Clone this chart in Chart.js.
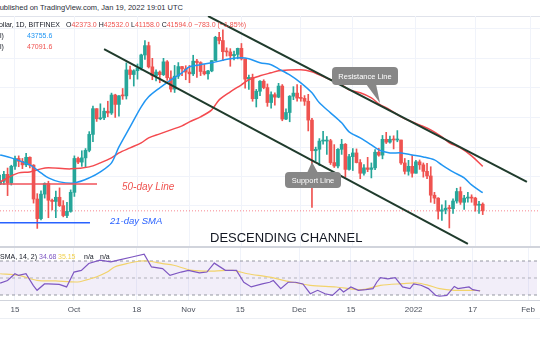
<!DOCTYPE html>
<html lang="en">
<head>
<meta charset="UTF-8">
<title>BTCUSD 1D - descending channel</title>
<script src="https://cdn.jsdelivr.net/npm/chart.js"></script>
<style>
  body { margin:0; width:540px; height:340px; overflow:hidden; position:relative; background:#fff;
         font-family:"Liberation Sans", Arial, sans-serif; color:#131722; }
  .t { position:absolute; white-space:nowrap; line-height:10px; }
  .ln { position:absolute; left:0; width:540px; }
  .r { color:#ef5350; }
</style>
</head>
<body>
<div class="t" style="right:357px;top:3px;font-size:7.5px;color:#2a2e39">Published on TradingView.com, Jan 19, 2022 19:01 UTC</div>
<div class="ln" style="top:16px;height:1px;background:#e0e3eb"></div>
<div style="position:absolute;left:0;top:16px;width:540px;height:230px"><canvas id="main"></canvas></div>
<div style="position:absolute;left:0;top:248px;width:540px;height:70px"><canvas id="rsi"></canvas></div>
<div class="ln" style="top:246px;height:2px;background:#d1d4dc"></div>
<div class="ln" style="top:300px;height:1px;background:#d1d4dc"></div>
<div class="ln" style="top:318px;height:1px;background:#eceff4"></div>

<div class="t" style="right:480px;top:20px;font-size:7px">Bitcoin / U.S. Dollar, 1D, BITFINEX</div>
<div class="t" style="left:66px;top:20px;font-size:7px">O<span class="r">42373.0</span> H<span class="r">42532.0</span> L<span class="r">41158.0</span> C<span class="r">41594.0</span> <span class="r">&minus;783.0 (&minus;1.85%)</span></div>
<div class="t" style="left:0;top:31px;font-size:7px">l)</div>
<div class="t" style="left:27px;top:31px;font-size:7px;color:#2196f3">43755.6</div>
<div class="t" style="left:0;top:42px;font-size:7px">l)</div>
<div class="t" style="left:27px;top:42px;font-size:7px;color:#ef5350">47091.6</div>

<div class="t" style="right:503px;top:252px;font-size:7px">RSI (14, close, SMA, 14, 2)</div>
<div class="t" style="left:39px;top:252px;font-size:7px;color:#7e57c2">34.68</div>
<div class="t" style="left:58px;top:252px;font-size:7px;color:#f0cf4a">35.15</div>
<div class="t" style="left:84px;top:252px;font-size:7px">n/a</div>
<div class="t" style="left:100px;top:252px;font-size:7px">n/a</div>

<script>
// day numbers are counted from 15 Sep 2021 (day 0); first candle is 11 Sep 2021
const firstDay = -4

const tickDays = [0, 16, 33, 47, 61, 77, 91, 108, 124, 139]
const tickLabels = ["15", "Oct", "18", "Nov", "15", "Dec", "15", "2022", "17", "Feb"]
const priceGrid = [42200, 45800, 49700, 54000, 58700, 63700, 69200]

// daily candles 11 Sep 2021 .. 19 Jan 2022
const opens = [44850,45180,46060,44960,47110,48150,47770,47300,48310,47260,
  42990,40700,43580,44900,42840,42700,43200,42200,41050,41530,
  43800,48150,47660,48230,49250,51500,55340,53800,53950,54950,
  54680,57490,56000,57370,57350,61670,60880,61530,62000,64300,
  66000,62200,60700,61300,60860,63080,60330,58450,60600,62250,61850,
  61300,61000,63200,62950,61400,61000,61500,63300,67550,66950,
  64900,64850,64150,64400,65500,63600,60100,60400,56900,58100,
  59750,58700,56300,57550,57150,58950,53750,54750,57300,57800,
  57000,56950,56500,53600,49200,49400,50550,50550,50600,47600,
  47150,49400,50100,46700,48400,48900,47600,46200,46900,46700,
  46900,49000,48600,50800,50400,50800,50700,50700,47550,46450,47100,
  46200,47700,47300,46450,45850,43450,43100,41550,41700,41900,
  41850,42750,43900,42600,43100,43200,43100,42250,42373]
const highs = [45970,46450,46880,47250,48470,48500,48150,48830,48370,47330,
  43640,44000,44980,45180,42990,43940,44350,42800,42600,44100,
  48500,48350,49200,49500,51900,55750,55340,56100,55450,56500,
  57800,57620,57400,58550,62900,62350,61700,62700,64450,66950,
  66650,63700,61700,61500,63700,63300,61500,62450,62950,62300,62400,
  62450,64250,63500,63100,62600,61600,63300,67750,68500,69000,
  65600,65450,65000,65550,66400,63600,60800,60950,58400,59850,
  60000,59300,58000,57850,59400,59200,55300,57400,58850,59200,
  59050,57400,57600,53850,49700,50900,51950,51200,50800,50050,
  49500,50800,50200,48700,49500,49450,48000,47350,48300,47550,
  49350,49550,51350,51800,51250,51300,52050,50700,48150,47900,48550,
  47900,47950,47550,47500,47050,43800,43150,42300,42800,42250,
  43000,44300,44450,43450,43800,43500,43200,42700,42532]
const lows = [44740,44770,43400,44700,46700,47050,46800,47070,46880,42500,
  39600,40550,43100,40800,41700,40800,42100,40900,40800,41430,
  43300,47450,47100,46950,49050,50450,53400,53650,53650,54100,
  54450,54000,54200,56800,56850,60150,58950,60100,61650,63500,
  62000,60000,59800,59500,60700,59900,58000,57900,60200,60700,60000,
  59500,60700,60400,60700,60800,60100,61350,63250,66300,63300,
  64100,62300,63400,63600,63400,58600,58400,56500,55600,57400,
  58500,55700,55400,55900,57050,53500,53650,53350,56750,56500,
  56500,55850,52000,42000,47800,47200,50100,48700,47350,46950,
  46900,48700,45700,46600,46550,47550,45500,45950,46400,45600,
  46650,48450,48100,50200,50250,49450,50450,47350,46100,45950,45700,
  46200,46700,45700,45500,42600,42450,40650,40500,41250,39650,
  41300,42500,42350,41750,42600,42600,41550,41300,41158]
const closes = [45180,46060,44960,47110,48150,47770,47300,48310,47260,42990,
  40700,43580,44900,42840,42700,43200,42200,41050,41530,43800,
  48150,47660,48230,49250,51500,55340,53800,53950,54950,54680,
  57490,56000,57370,57350,61670,60880,61530,62000,64300,66000,
  62200,60700,61300,60860,63080,60330,58450,60600,62250,61850,61300,
  61000,63200,62950,61400,61000,61500,63300,67550,66950,64900,
  64850,64150,64400,65500,63600,60100,60400,56900,58100,59750,
  58700,56300,57550,57150,58950,53750,54750,57300,57800,57000,
  56950,56500,53600,49200,49400,50550,50550,50600,47600,47150,
  49400,50100,46700,48400,48900,47600,46200,46900,46700,46900,
  49000,48600,50800,50400,50800,50700,50700,47550,46450,47100,46200,
  47700,47300,46450,45850,43450,43100,41550,41700,41900,41850,
  42750,43900,42600,43100,43200,43100,42250,42373,41594]
const lastPrice = 41594

// moving averages
const sma21Days = [-4,-1,4,7,9,12,16,20,23,26,28,31,34,36,39,42,45,47,50,53,58,61,63,66,69,71,74,77,80,82,85,88,90,93,96,98,101,104,107,110,113,115,118,121,123,126]
const sma21 = [48630,48230,47290,46250,45600,45100,44970,45600,46370,47560,49730,52600,55630,57200,58660,59990,61180,62220,62570,62920,63620,63800,63620,62920,62570,61860,60820,59490,57850,56250,54700,53190,51870,51000,50010,49320,48900,48900,48630,48360,47960,47290,46370,45600,44720,43756]
const sma50Days = [-4,-1,1,4,7,9,15,20,23,26,28,31,34,36,39,42,45,47,50,53,55,58,61,63,66,69,71,77,80,82,85,88,90,93,96,98,101,104,107,109,112,115,117,120,123,126]
const sma50 = [45100,45860,46250,46370,46770,46900,46770,47030,47560,48230,48900,49600,50300,51000,51580,52160,52750,53340,54090,55160,56720,58010,59160,59990,60660,61180,61520,61690,61350,60820,59990,59160,58330,57850,57040,56100,55160,54090,53340,52890,52160,51150,50300,49600,48500,47092]

// drawn trend lines: [day, price] end points
const upperChannel = [[52, 71690], [137.9, 45090]]
const lowerChannel = [[24, 65370], [122, 37920]]
const line50 = [[-4.05, 44840], [22.1, 44840]]
const line21 = [[-4.05, 40240], [20.2, 40240]]

// RSI pane
const rsiDays = [-4,-2,0,1,3,5,6,8,9,12,14,16,18,20,23,26,28,32,35,37,40,42,45,47,50,52,54,57,60,62,64,67,69,70,72,74,76,78,80,82,84,86,88,89,91,93,95,97,98,99,101,103,105,107,108,110,112,114,115,117,119,120,123,124,126]
const rsiVals = [44,47,55,53,55,41,35.5,43,43,42.5,39.5,57,59,67,71,69,71,75,78,63,61,53,57,59,56,57,67.5,59,59,45,39.5,43,45,47,37.5,45,45,43,31.5,35.5,31.5,29.5,37.5,33.5,39.5,35.5,36.3,37.5,45,50.5,49,50.5,39.5,37.5,43,41.5,37.5,29.5,28.5,29.5,40,37.5,39.5,36.3,34.68]
const rsiMaDays = [-4,1,6,11,17,19,22,25,27,31,34,36,40,43,48,54,59,63,69,74,80,87,94,99,105,109,112,115,119,123,126]
const rsiMa = [55,53,47.3,46.5,45.3,47.3,51.2,57,63,67.6,70,70,67,65,59,58.2,59,55,51,46,41.4,39.4,36.3,41.4,43.3,44.1,41.4,37.5,35.5,35.5,35.15]
const rsiLevels = [70, 50, 30]

const xMin = -4.04, xMax = 141.43
const up = "#26a69a", down = "#ef5350"
const font = '"Liberation Sans", Arial, sans-serif'
Chart.defaults.font.family = font
Chart.defaults.animation = false

const pts = (days, vals) => days.map((d, i) => ({ x: d, y: vals[i] }))
const seg = (p) => p.map((q) => ({ x: q[0], y: q[1] }))
const candleColor = (ctx) => (closes[ctx.dataIndex] >= opens[ctx.dataIndex] ? up : down)

function callout(c, text, x, y, w, h, tail) {
  c.fillStyle = "#878787"
  c.beginPath()
  c.roundRect(x, y, w, h, 4)
  c.fill()
  c.beginPath()
  c.moveTo(tail[0], tail[1])
  c.lineTo(tail[2], tail[3])
  c.lineTo(tail[4], tail[5])
  c.closePath()
  c.fill()
  c.fillStyle = "#fff"
  c.font = "7.5px " + font
  c.textAlign = "center"
  c.fillText(text, x + w / 2, y + h / 2 + 0.5)
  c.textAlign = "left"
}

const overlay = {
  id: "overlay",
  afterDatasetsDraw(chart) {
    const c = chart.ctx
    c.save()
    c.textBaseline = "middle"
    c.font = "italic 10px " + font
    c.fillStyle = "#ef5350"
    c.fillText("50-day Line", 122, 171)
    c.font = "italic 9.5px " + font
    c.fillStyle = "#2962ff"
    c.fillText("21-day SMA", 110, 205)
    c.font = "13px " + font
    c.fillStyle = "#131722"
    c.fillText("DESCENDING CHANNEL", 210, 222)
    callout(c, "Resistance Line", 332, 51, 66, 18, [366, 68, 380, 87, 376, 68])
    callout(c, "Support Line", 285, 156, 56, 16, [307, 157, 312, 146, 318, 157])
    c.restore()
  },
}

const hiddenY = { ticks: { display: false }, border: { display: false }, grid: { drawTicks: false } }

new Chart(document.getElementById("main"), {
  type: "bar",
  data: {
    datasets: [
      { type: "line", data: seg(upperChannel), borderColor: "#1f3b2c", borderWidth: 2, pointRadius: 0, order: 0 },
      { type: "line", data: seg(lowerChannel), borderColor: "#1f3b2c", borderWidth: 2, pointRadius: 0, order: 0 },
      { type: "line", data: seg(line50), borderColor: "#f0525a", borderWidth: 1.5, pointRadius: 0, order: 0 },
      { type: "line", data: seg(line21), borderColor: "#2962ff", borderWidth: 1.5, pointRadius: 0, order: 0 },
      { type: "line", data: pts(sma21Days, sma21), borderColor: "#2196f3", borderWidth: 1.5, pointRadius: 0, tension: 0.3, order: 1 },
      { type: "line", data: pts(sma50Days, sma50), borderColor: "#f44a4f", borderWidth: 1.5, pointRadius: 0, tension: 0.3, order: 1 },
      {
        data: opens.map((o, i) => ({ x: i + firstDay, y: [o, closes[i]] })),
        backgroundColor: candleColor, barThickness: 3, minBarLength: 1, grouped: false, order: 2,
      },
      {
        data: lows.map((l, i) => ({ x: i + firstDay, y: [l, highs[i]] })),
        backgroundColor: candleColor, barThickness: 1, grouped: false, order: 3,
      },
      {
        type: "line", data: seg([[xMin, lastPrice], [xMax, lastPrice]]),
        borderColor: "rgba(242,54,69,0.6)", borderWidth: 1, borderDash: [1, 2], pointRadius: 0, order: 4,
      },
    ],
  },
  options: {
    responsive: true,
    maintainAspectRatio: false,
    layout: { padding: 0, autoPadding: false },
    plugins: { legend: { display: false }, tooltip: { enabled: false } },
    scales: {
      x: {
        type: "linear", min: xMin, max: xMax, offset: false,
        grid: { color: "#f0f3fa", drawTicks: false, offset: false },
        ticks: { display: false }, border: { display: false },
        afterBuildTicks: (s) => { s.ticks = tickDays.map((v) => ({ value: v })) },
        afterFit: (s) => { s.height = 0 },
      },
      y: {
        type: "logarithmic", min: 37700, max: 71700, beginAtZero: false,
        ...hiddenY,
        grid: { color: "#f0f3fa", drawTicks: false },
        afterBuildTicks: (s) => { s.ticks = priceGrid.map((v) => ({ value: v })) },
        afterFit: (s) => { s.width = 0 },
      },
    },
  },
  plugins: [overlay],
})

new Chart(document.getElementById("rsi"), {
  type: "line",
  data: {
    datasets: [
      { data: pts(rsiDays, rsiVals), borderColor: "#7e57c2", borderWidth: 1.2, pointRadius: 0, order: 0 },
      { data: pts(rsiMaDays, rsiMa), borderColor: "#f2d36b", borderWidth: 1.2, pointRadius: 0, tension: 0.3, order: 1 },
      {
        data: seg([[xMin, rsiLevels[0]], [xMax, rsiLevels[0]]]),
        borderColor: "#9598a1", borderWidth: 1, borderDash: [3, 3], pointRadius: 0, order: 2,
      },
      {
        data: seg([[xMin, rsiLevels[1]], [xMax, rsiLevels[1]]]),
        borderColor: "rgba(149,152,161,0.7)", borderWidth: 1, borderDash: [3, 3], pointRadius: 0, order: 2,
      },
      {
        data: seg([[xMin, rsiLevels[2]], [xMax, rsiLevels[2]]]),
        borderColor: "#9598a1", borderWidth: 1, borderDash: [3, 3], pointRadius: 0, order: 2,
        fill: { target: 2 }, backgroundColor: "rgba(126,87,194,0.1)",
      },
    ],
  },
  options: {
    responsive: true,
    maintainAspectRatio: false,
    layout: { padding: 0, autoPadding: false },
    plugins: { legend: { display: false }, tooltip: { enabled: false } },
    scales: {
      x: {
        type: "linear", min: xMin, max: xMax,
        grid: { color: "#f0f3fa", drawTicks: false },
        border: { display: false },
        ticks: {
          autoSkip: false, maxRotation: 0, padding: 5, color: "#4c525e", font: { size: 8 },
          callback: (v) => tickLabels[tickDays.indexOf(v)],
        },
        afterBuildTicks: (s) => { s.ticks = tickDays.map((v) => ({ value: v })) },
        afterFit: (s) => { s.height = 18 },
      },
      y: {
        type: "linear", min: 24.1, max: 85.3, display: false,
        afterFit: (s) => { s.width = 0 },
      },
    },
  },
})
</script>
</body>
</html>
